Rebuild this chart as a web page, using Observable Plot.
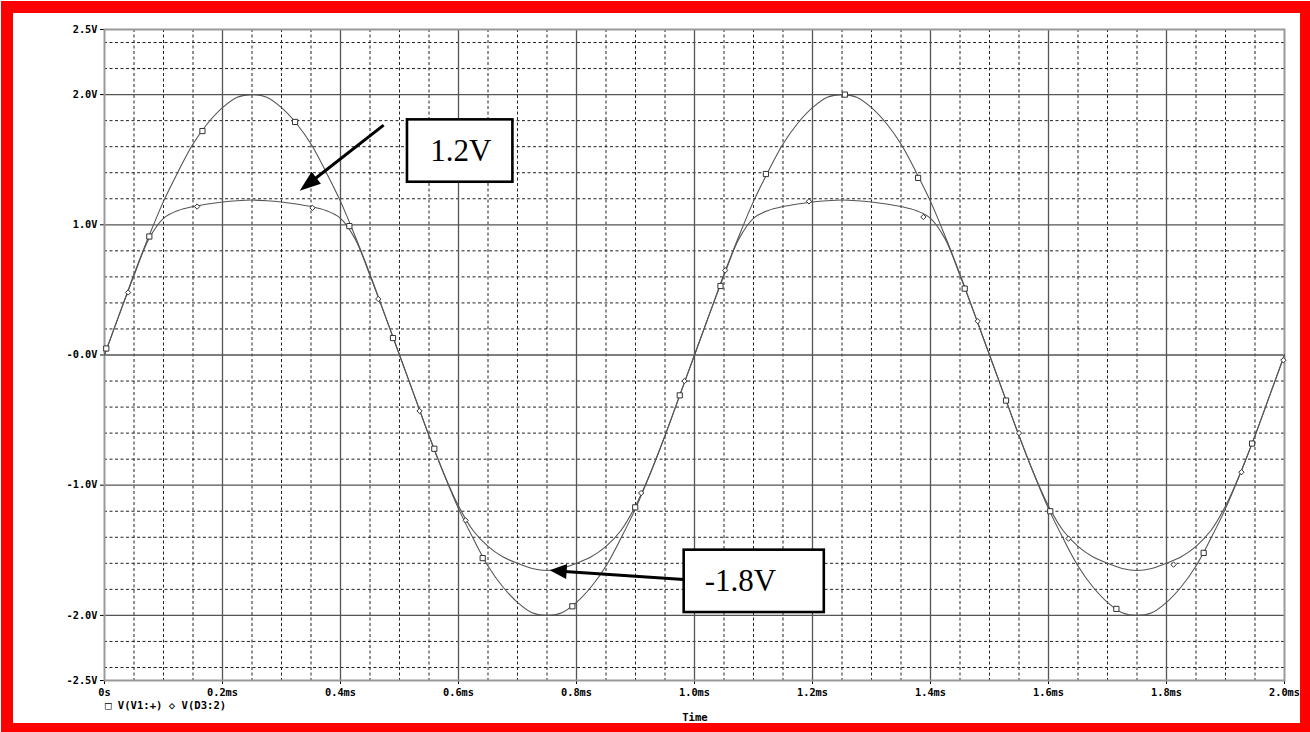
<!DOCTYPE html>
<html><head><meta charset="utf-8">
<script src="https://cdn.jsdelivr.net/npm/d3@7"></script>
<script src="https://cdn.jsdelivr.net/npm/@observablehq/plot@0.6"></script>
<style>
html,body{margin:0;padding:0;overflow:hidden;background:#fff;width:1310px;height:732px;}
#wrap{position:relative;width:1310px;height:732px;overflow:hidden;}
#chart{position:absolute;left:0;top:0;}
#frame{position:absolute;left:1px;top:1px;width:1287px;height:710px;border:12px solid #ff0000;pointer-events:none;}
.mono{position:absolute;font-family:"DejaVu Sans Mono",monospace;font-weight:bold;font-size:10.6px;line-height:10px;color:#000;white-space:pre;}
</style></head><body>
<div id="wrap">
<div id="chart"></div>
<div id="legend" class="mono" style="left:105px;top:700px;"></div>
<div id="xlabel" class="mono" style="left:645px;width:100px;text-align:center;top:712px;"></div>
<div id="frame"></div>
</div>
<script>
// ---- data ----
const time = [0,0.025,0.05,0.075,0.1,0.125,0.15,0.175,0.2,0.225,0.25,0.275,0.3,0.325,0.35,0.375,0.4,0.425,0.45,0.475,
  0.5,0.525,0.55,0.575,0.6,0.625,0.65,0.675,0.7,0.725,0.75,0.775,0.8,0.825,0.85,0.875,0.9,0.925,0.95,0.975,
  1.0,1.025,1.05,1.075,1.1,1.125,1.15,1.175,1.2,1.225,1.25,1.275,1.3,1.325,1.35,1.375,1.4,1.425,1.45,1.475,
  1.5,1.525,1.55,1.575,1.6,1.625,1.65,1.675,1.7,1.725,1.75,1.775,1.8,1.825,1.85,1.875,1.9,1.925,1.95,1.975,2.0];
const vV1 = [0.00,0.31,0.62,0.91,1.18,1.41,1.62,1.78,1.90,1.98,2.00,1.98,1.90,1.78,1.62,1.41,1.18,0.91,0.62,0.31,
  0.00,-0.31,-0.62,-0.91,-1.18,-1.41,-1.62,-1.78,-1.90,-1.98,-2.00,-1.98,-1.90,-1.78,-1.62,-1.41,-1.18,-0.91,-0.62,-0.31,
  0.00,0.31,0.62,0.91,1.18,1.41,1.62,1.78,1.90,1.98,2.00,1.98,1.90,1.78,1.62,1.41,1.18,0.91,0.62,0.31,
  0.00,-0.31,-0.62,-0.91,-1.18,-1.41,-1.62,-1.78,-1.90,-1.98,-2.00,-1.98,-1.90,-1.78,-1.62,-1.41,-1.18,-0.91,-0.62,-0.31,0.00];
const vD3 = [0.00,0.31,0.61,0.89,1.05,1.11,1.14,1.16,1.175,1.185,1.19,1.185,1.175,1.16,1.14,1.11,1.05,0.89,0.61,0.31,
  0.00,-0.31,-0.62,-0.91,-1.16,-1.35,-1.47,-1.55,-1.60,-1.64,-1.655,-1.64,-1.60,-1.55,-1.47,-1.35,-1.16,-0.91,-0.62,-0.31,
  0.00,0.31,0.61,0.89,1.05,1.11,1.14,1.16,1.175,1.185,1.19,1.185,1.175,1.16,1.14,1.11,1.05,0.89,0.61,0.31,
  0.00,-0.31,-0.62,-0.91,-1.16,-1.35,-1.47,-1.55,-1.60,-1.64,-1.655,-1.64,-1.60,-1.55,-1.47,-1.35,-1.16,-0.91,-0.62,-0.31,0.00];

const v1MarkT = [0.003,0.076,0.166,0.323,0.415,0.489,0.559,0.641,0.793,0.8995,0.975,1.044,1.121,1.255,1.379,1.458,1.528,1.603,1.715,1.863,1.945];
const v1MarkV = [0.05,0.91,1.72,1.79,0.99,0.13,-0.72,-1.56,-1.93,-1.17,-0.31,0.53,1.39,2.00,1.36,0.51,-0.35,-1.20,-1.95,-1.52,-0.68];
const d3MarkT = [0.040,0.157,0.3525,0.464,0.534,0.612,0.9096,0.983,1.052,1.194,1.388,1.480,1.550,1.634,1.812,1.927,1.998];
const d3MarkV = [0.48,1.14,1.13,0.43,-0.43,-1.27,-1.06,-0.20,0.65,1.18,1.06,0.26,-0.60,-1.41,-1.61,-0.90,-0.04];

const xTicks = [0,0.2,0.4,0.6,0.8,1.0,1.2,1.4,1.6,1.8,2.0];
const xTickLabels = ["0s","0.2ms","0.4ms","0.6ms","0.8ms","1.0ms","1.2ms","1.4ms","1.6ms","1.8ms","2.0ms"];
const yTicks = [2.5,2.0,1.0,0,-1.0,-2.0,-2.5];
const yTickLabels = ["2.5V","2.0V","1.0V","-0.0V","-1.0V","-2.0V","-2.5V"];
const majorXGrid = [0.2,0.4,0.6,0.8,1.0,1.2,1.4,1.6,1.8];
const minorXGrid = [0.05,0.1,0.15,0.25,0.3,0.35,0.45,0.5,0.55,0.65,0.7,0.75,0.85,0.9,0.95,
  1.05,1.1,1.15,1.25,1.3,1.35,1.45,1.5,1.55,1.65,1.7,1.75,1.85,1.9,1.95];
const majorYGrid = [2,1,0,-1,-2];
const minorYGrid = [2.4,2.2,1.8,1.6,1.4,1.2,0.8,0.6,0.4,0.2,-0.2,-0.4,-0.6,-0.8,-1.2,-1.4,-1.6,-1.8,-2.2,-2.4];

const seriesNames = ["V(V1:+)","V(D3:2)"];
const xAxisTitle = "Time";

const noteText = ["1.2V","-1.8V"];
const noteTextT = [0.604,1.078];
const noteTextV = [1.566,-1.735];
const noteBoxT1 = [0.5135,0.9825], noteBoxT2 = [0.6922,1.220];
const noteBoxV1 = [1.806,-1.499], noteBoxV2 = [1.327,-1.978];
const arrowFromT = [0.474,0.9825], arrowFromV = [1.762,-1.729];
const arrowToT = [0.3317,0.7554], arrowToV = [1.258,-1.658];

// ---- tables ----
const rows1 = time.map((t,i)=>({t, v: vV1[i]}));
const rows2 = time.map((t,i)=>({t, v: vD3[i]}));
const m1 = v1MarkT.map((t,i)=>({t, v: v1MarkV[i]}));
const m2 = d3MarkT.map((t,i)=>({t, v: d3MarkV[i]}));
const boxes = noteText.map((s,i)=>({x1:noteBoxT1[i],x2:noteBoxT2[i],y1:noteBoxV1[i],y2:noteBoxV2[i]}));
const notes = noteText.map((s,i)=>({s,t:noteTextT[i],v:noteTextV[i]}));

const lab = (arr, labels) => d => { const i = arr.findIndex(a => Math.abs(a-d) < 1e-9); return i < 0 ? "" : labels[i]; };
const sq = d3.symbolSquare2 || "square";
const dm = d3.symbolDiamond2 || "diamond";

const plot = Plot.plot({
  width: 1310, height: 732,
  marginLeft: 104, marginRight: 26, marginTop: 29, marginBottom: 52,
  style: {fontFamily: "DejaVu Sans Mono, monospace", fontSize: "10.3px", fontWeight: "bold", background: "transparent", color: "#000"},
  x: {domain: [0, 2.0], ticks: xTicks, tickFormat: lab(xTicks, xTickLabels), tickSize: 4, tickPadding: 4, label: null},
  y: {domain: [-2.5, 2.5], ticks: yTicks, tickFormat: lab(yTicks, yTickLabels), tickSize: 4, tickPadding: 3, label: null},
  marks: [
    Plot.ruleX(minorXGrid, {stroke: "#222", strokeWidth: 1, strokeDasharray: "3,2.5"}),
    Plot.ruleY(minorYGrid, {stroke: "#222", strokeWidth: 1, strokeDasharray: "3,2.5"}),
    Plot.ruleX(majorXGrid, {stroke: "#555", strokeWidth: 1.3}),
    Plot.ruleY(majorYGrid, {stroke: "#555", strokeWidth: 1.3}),
    Plot.frame({stroke: "#999", strokeWidth: 2}),
    Plot.line(rows1, {x: "t", y: "v", stroke: "#555", strokeWidth: 1.1, curve: "catmull-rom"}),
    Plot.line(rows2, {x: "t", y: "v", stroke: "#555", strokeWidth: 1.1, curve: "catmull-rom"}),
    Plot.dot(m1, {x: "t", y: "v", symbol: sq, r: 3.3, stroke: "#333", strokeWidth: 1, fill: "white"}),
    Plot.dot(m2, {x: "t", y: "v", symbol: dm, r: 2.4, stroke: "#333", strokeWidth: 1, fill: "white"}),
    Plot.rect(boxes, {x1: "x1", x2: "x2", y1: "y1", y2: "y2", fill: "white", stroke: "#000", strokeWidth: 2.6}),
    Plot.text(notes, {x: "t", y: "v", text: "s", fontFamily: "Liberation Serif, Times New Roman, serif", fontSize: 31, fontWeight: "normal", fill: "#000"})
  ]
});
document.getElementById("chart").appendChild(plot);

// arrows with filled heads, positioned through the plot's own scales
const sx = plot.scale("x"), sy = plot.scale("y");
const fx = sx.apply ? (v => sx.apply(v)) : d3.scaleLinear(sx.domain, sx.range);
const fy = sy.apply ? (v => sy.apply(v)) : d3.scaleLinear(sy.domain, sy.range);
const svg = d3.select(plot.tagName.toLowerCase() === "svg" ? plot : plot.querySelector("svg"));
const g = svg.append("g");
const headLen = [21, 17], headHalf = [7.5, 7.5];
arrowFromT.forEach((_, i) => {
  const x0 = fx(arrowFromT[i]), y0 = fy(arrowFromV[i]);
  const x1 = fx(arrowToT[i]), y1 = fy(arrowToV[i]);
  const dx = x1 - x0, dy = y1 - y0, L = Math.hypot(dx, dy);
  const ux = dx / L, uy = dy / L;
  const bx = x1 - ux * headLen[i], by = y1 - uy * headLen[i];
  g.append("line").attr("x1", x0).attr("y1", y0).attr("x2", bx + ux * 2).attr("y2", by + uy * 2)
    .attr("stroke", "#000").attr("stroke-width", 3);
  g.append("path").attr("d", `M${x1},${y1}L${bx - uy * headHalf[i]},${by + ux * headHalf[i]}L${bx + uy * headHalf[i]},${by - ux * headHalf[i]}Z`)
    .attr("fill", "#000");
});

document.getElementById("legend").textContent = "\u25A1 " + seriesNames[0] + " \u25C7 " + seriesNames[1];
document.getElementById("xlabel").textContent = xAxisTitle;
</script>
</body></html>
